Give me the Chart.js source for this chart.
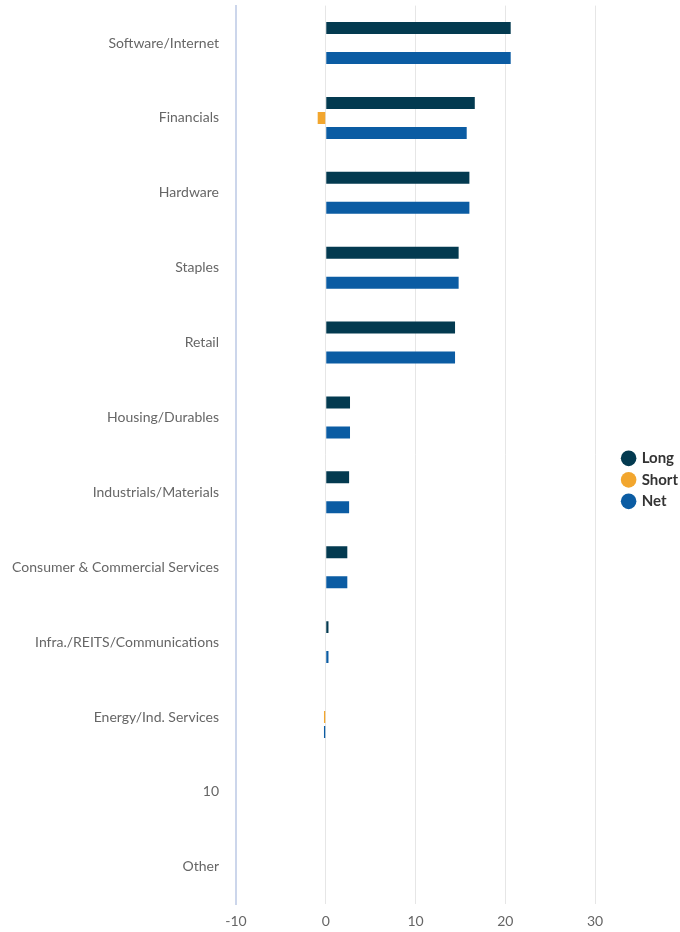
<!DOCTYPE html>
<html>
<head>
<meta charset="utf-8">
<script src="https://cdn.jsdelivr.net/npm/chart.js@4"></script>
<style>
	html, body { margin: 0; padding: 0; background: #fff; }
	#wrap { width: 680px; height: 932px; }
</style>
</head>
<body>
<div id="wrap"><canvas id="sectorChart" width="680" height="932"></canvas></div>
<script>
const categories = ['Software/Internet', 'Financials', 'Hardware', 'Staples', 'Retail', 'Housing/Durables',
	'Industrials/Materials', 'Consumer & Commercial Services', 'Infra./REITS/Communications',
	'Energy/Ind. Services', '10', 'Other'];
const longValues = [20.6, 16.6, 16.0, 14.8, 14.4, 2.7, 2.6, 2.4, 0.3, 0, 0, 0];
const shortValues = [0, -0.9, 0, 0, 0, 0, 0, 0, 0, -0.2, 0, 0];
const netValues = [20.6, 15.7, 16.0, 14.8, 14.4, 2.7, 2.6, 2.4, 0.3, -0.2, 0, 0];
const xTicks = [-10, 0, 10, 20, 30];

const ctx = document.getElementById('sectorChart');
new Chart(ctx, {
	type: 'bar',
	data: {
		labels: categories,
		datasets: [
			{ label: 'Long', data: longValues, backgroundColor: '#033a50' },
			{ label: 'Short', data: shortValues, backgroundColor: '#f2a62e' },
			{ label: 'Net', data: netValues, backgroundColor: '#0b5ca3' }
		]
	},
	options: {
		indexAxis: 'y',
		responsive: false,
		animation: false,
		categoryPercentage: 0.6,
		barPercentage: 0.8,
		layout: { padding: { top: 5.5, bottom: -7, left: 0, right: -8 } },
		scales: {
			x: {
				min: xTicks[0],
				max: 32.4,
				afterBuildTicks: function(axis) {
					axis.ticks = xTicks.map(v => ({ value: v }));
				},
				grid: { color: '#e6e6e6', drawTicks: false, lineWidth: 1 },
				border: { display: false },
				ticks: { color: '#666', font: { family: 'Lato', size: 14 }, padding: 9 }
			},
			y: {
				afterFit: function(axis) { axis.width = 236; },
				grid: { display: false, drawTicks: true, tickLength: 17 },
				border: { display: true, color: '#ccd6eb', width: 2 },
				ticks: { color: '#666', font: { family: 'Lato', size: 14, lineHeight: 0.8 }, padding: 0 }
			}
		},
		plugins: {
			legend: {
				position: 'right',
				title: { display: true, text: '', font: { size: 1 }, padding: { top: 0, bottom: 14 } },
				labels: {
					usePointStyle: true,
					pointStyle: 'circle',
					boxWidth: 11,
					boxHeight: 11,
					padding: 6.5,
					color: '#333',
					font: { family: 'Lato', size: 15, weight: 'bold' }
				}
			},
			tooltip: { enabled: false }
		}
	}
});
</script>
</body>
</html>
